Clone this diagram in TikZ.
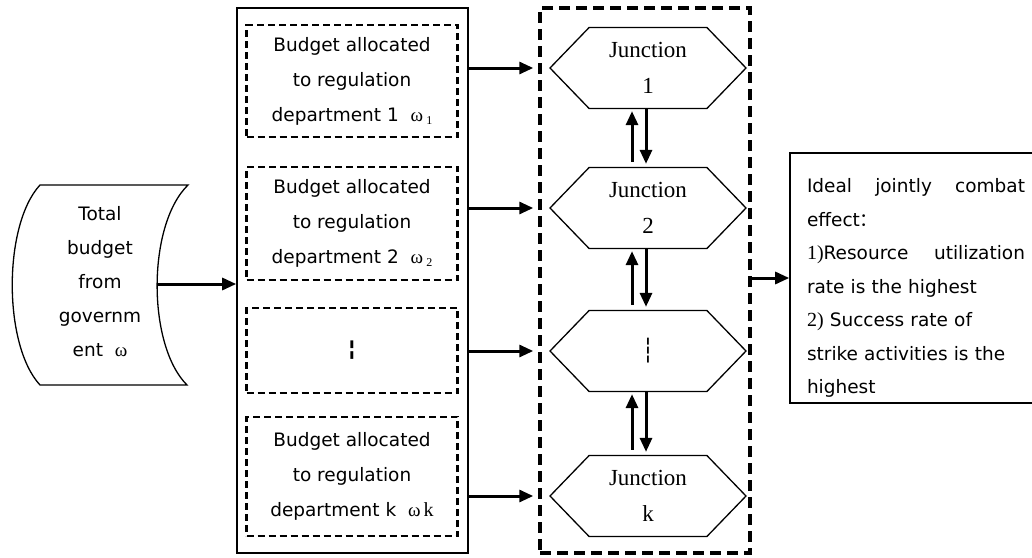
\documentclass[tikz,border=0pt]{standalone}
\usepackage{fontspec}
\setmainfont{DejaVu Sans}
\newfontfamily\serif{Liberation Serif}
\newfontfamily\cjk{Noto Sans CJK SC}
\usetikzlibrary{arrows.meta,shapes.symbols}

\newcommand{\wsub}[1]{{\serif\fontsize{19}{19}\selectfont ω\,\raisebox{-3pt}{\fontsize{12}{12}\selectfont #1}}}

\tikzstyle{budgettext} = [font=\fontsize{18.5}{34}\selectfont, align=center]
\tikzstyle{deptbox} = [draw, line width=2.4pt, dash pattern=on 7pt off 4pt, minimum width=211pt, inner sep=0pt, font=\fontsize{18.5}{35}\selectfont, align=center]
\tikzstyle{junction} = [signal, signal to=west and east, signal pointer angle=92, draw, line width=1.3pt, minimum width=196pt, minimum height=81pt, inner sep=0pt, font=\serif\fontsize{23}{36}\selectfont, align=center]
\tikzstyle{arrowdecorate} = [-{Triangle[length=14pt,width=12pt]}, line width=3pt]

\begin{document}
\begin{tikzpicture}[x=1pt,y=-1pt]
    \useasboundingbox (0,0) rectangle (1032,557);
    % frames
    \node[draw, line width=1.6pt, minimum width=231pt, minimum height=545pt, inner sep=0pt] (alloc) at (352.5,280.5) {};
    \node[draw, line width=3.5pt, dash pattern=on 11pt off 6pt, minimum width=210pt, minimum height=545pt, inner sep=0pt] (crossing) at (645,280.5) {};
    % total budget
    \node[budgettext] (total) at (100,282) {Total\\budget\\from\\governm\\ent\ \ {\serif\fontsize{19}{19}\selectfont ω}};
    \draw[line width=1.3pt] (40,185) -- (188,185) .. controls (147,225) and (147,345) .. (187,385)
      -- (40,385) .. controls (3,345) and (3,225) .. cycle;
    \coordinate (totalout) at (157,284);
    % departments
    \foreach \name/\y/\h/\txt in {
      d1/81/112/{Budget allocated\\to regulation\\department 1\ \ \wsub{1}},
      d2/223.5/113/{Budget allocated\\to regulation\\department 2\ \ \wsub{2}},
      d3/350.5/85/{╏},
      dk/476.5/119/{Budget allocated\\to regulation\\department k\ \ {\serif\fontsize{19}{19}\selectfont ω\,\fontsize{20}{20}\selectfont k}}}
    {
        \node[deptbox, minimum height=\h pt] (\name) at (352,\y) {\txt};
    };
    % junctions
    \foreach \name/\y/\txt in {j1/68/{Junction\\1}, j2/208/{Junction\\2}, j3/351/{\rmfamily ┆}, jk/496/{Junction\\k}}
    {
        \node[junction] (\name) at (648,\y) {\txt};
    };
    % result
    \node[draw, line width=1.6pt, text width=218pt, inner xsep=17pt, minimum height=250pt, font=\fontsize{18.5}{33.5}\selectfont, align=left] (effect) at (916,278)
      {\rule{0pt}{34pt}\makebox[218pt][l]{Ideal\hfill jointly\hfill combat}\\effect{\cjk ：}\\\makebox[218pt][l]{{\serif\fontsize{20}{20}\selectfont 1)}Resource\hfill utilization}\\rate is the highest\\{\serif\fontsize{20}{20}\selectfont 2)} Success rate of\\strike activities is the\\highest};
    % edges
    \draw[arrowdecorate] (totalout) -- (totalout -| alloc.west);
    \foreach \dst in {j1,j2,j3,jk}
      \draw[arrowdecorate] (alloc.east |- \dst) -- ([xshift=-5pt]crossing.west |- \dst);
    \foreach \upper/\lower in {j1/j2, j2/j3, j3/jk}
    {
        \draw[arrowdecorate, shorten <=5pt, shorten >=2pt] ([xshift=-16pt]\lower.north) -- ([xshift=-16pt]\upper.south);
        \draw[arrowdecorate, shorten >=3pt] ([xshift=-2pt]\upper.south) -- ([xshift=-2pt]\lower.north);
    };
    \draw[arrowdecorate] (crossing.east |- effect) -- (effect.west);
\end{tikzpicture}
\end{document}
